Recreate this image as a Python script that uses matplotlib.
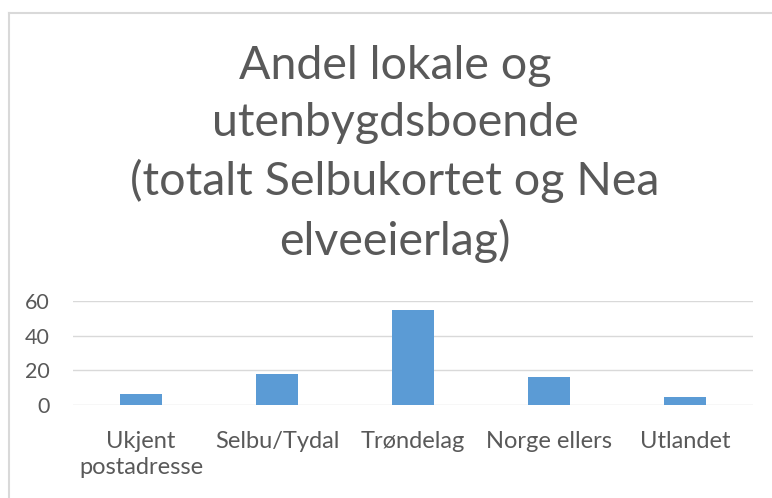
import matplotlib
matplotlib.use("Agg")
from matplotlib import pyplot as plt
from matplotlib.lines import Line2D

categories = ["Ukjent\npostadresse", "Selbu/Tydal", "Trøndelag", "Norge ellers", "Utlandet"]
values = [6.3, 18.0, 54.8, 16.2, 4.4]
yticks = [0, 20, 40, 60]
title = "Andel lokale og\nutenbygdsboende\n(totalt Selbukortet og Nea\nelveeierlag)"

W, H = 772, 498
fig = plt.figure(figsize=(W / 100, H / 100), dpi=100)
fig.patch.set_facecolor("white")

# chart border (only left and top visible, the rest is cropped)
border = "#d9d9d9"
fig.add_artist(Line2D([8.5 / W, 8.5 / W], [0, 1 - 13.5 / H], transform=fig.transFigure,
                      color=border, lw=1.5))
fig.add_artist(Line2D([8.5 / W, 1], [1 - 13.5 / H, 1 - 13.5 / H], transform=fig.transFigure,
                      color=border, lw=1.5))

ax = fig.add_axes([73 / W, (H - 405) / H, (753 - 73) / W, 104 / H])
x = range(len(categories))
ax.bar(x, values, width=0.31, color="#5b9bd5", zorder=3)
ax.set_xlim(-0.5, len(categories) - 0.5)
ax.set_ylim(0, 60)
ax.set_yticks(yticks)
ax.set_xticks(list(x))
ax.set_xticklabels(categories, fontsize=17, color="#595959", family="Lato", linespacing=1.3)
ax.set_yticklabels([str(t) for t in yticks], fontsize=15.5, color="#595959", family="Lato")
ax.tick_params(axis="both", length=0)
ax.tick_params(axis="y", pad=16.5)
ax.tick_params(axis="x", pad=19)
ax.grid(axis="y", color="#d9d9d9", lw=1, zorder=0)
for s in ax.spines.values():
    s.set_visible(False)

fig.text(395 / W, 1 - 154 / H, title, ha="center", va="center", fontsize=33.5,
         family="Lato", color="#595959", linespacing=1.42)

fig.savefig("out.png", dpi=100)
